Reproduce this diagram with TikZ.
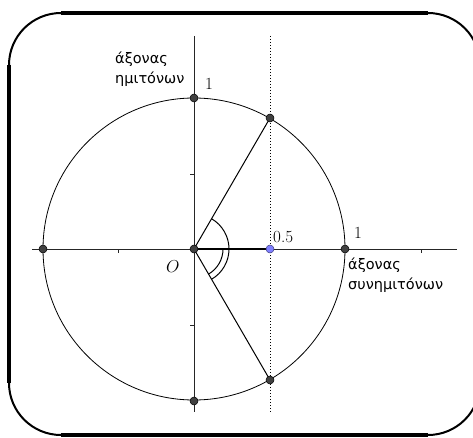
\documentclass[tikz,border=0pt]{standalone}
\usepackage{fontspec}
\newfontfamily\grk{DejaVu Sans}
\definecolor{ptgray}{HTML}{404040}
\definecolor{ptblue}{HTML}{7F7FFF}
\tikzset{
  ax/.style={line width=0.9pt, draw=black!85},
  seg/.style={line width=1pt},
  pt/.style={circle, fill=ptgray, draw=black, line width=0.5pt, inner sep=0pt, minimum size=8pt},
  bpt/.style={circle, fill=ptblue, draw=ptblue!50!black, line width=0.5pt, inner sep=0pt, minimum size=8pt},
  grktext/.style={font=\grk\fontsize{14.5}{20}\selectfont, align=left, inner sep=0pt},
  num/.style={font=\fontsize{17}{20}\selectfont, inner sep=0pt},
  frameline/.style={line width=3.5pt},
  framearc/.style={line width=2pt}
}
\begin{document}
\begin{tikzpicture}[x=1pt,y=-1pt]
\useasboundingbox (0,0) rectangle (473,438);
% frame
\draw[frameline] (61,13) -- (428,13);
\draw[frameline] (9,65) -- (9,383);
\draw[frameline] (61,435) -- (428,435);
\draw[framearc] (9,65) arc[start angle=180, end angle=90, radius=52pt];
\draw[framearc] (428,13) arc[start angle=90, end angle=0, radius=52pt];
\draw[framearc] (480,383) arc[start angle=0, end angle=-90, radius=52pt];
\draw[framearc] (61,435) arc[start angle=-90, end angle=-180, radius=52pt];
% coordinates
\coordinate (O) at (194,249);
\coordinate (xl) at (32,249);
\coordinate (xr) at (457,249);
\coordinate (yt) at (194,36);
\coordinate (yb) at (194,412);
\coordinate (dt) at (270,36);
\coordinate (db) at (270,412);
% circle
\draw[line width=0.8pt] (O) circle[radius=151pt];
% axes
\draw[ax] (xl) -- (xr);
\draw[ax] (yt) -- (yb);
% ticks
\foreach \x in {118,421} \draw[ax] (\x,249) -- (\x,253);
\foreach \y in {174,325} \draw[ax] (194,\y) -- (190,\y);
% dotted line
\draw[line width=1pt, dotted] (dt) -- (db);
% segments
\coordinate (P) at (270,118);
\coordinate (Q) at (270,380);
\coordinate (H) at (270,249);
\draw[seg] (O) -- (P);
\draw[seg] (O) -- (Q);
\draw[line width=2pt] (O) -- (H);
% angles
\draw[seg] ([shift={(60:35pt)}]O) arc[start angle=60, end angle=0, radius=35pt];
\draw[seg] ([shift={(0:35pt)}]O) arc[start angle=0, end angle=-60, radius=35pt];
\draw[seg] ([shift={(0:29pt)}]O) arc[start angle=0, end angle=-60, radius=29pt];
% points
\node[pt] (nO) at (O) {};
\node[pt] (nT) at (194,98) {};
\node[pt] (nB) at (194,401) {};
\node[pt] (nL) at (43,249) {};
\node[pt] (nR) at (345,249) {};
\node[pt] (nP) at (P) {};
\node[pt] (nQ) at (Q) {};
\node[bpt] (nH) at (H) {};
% labels
\node[grktext, anchor=base west] (ys1) at (115,64) {άξονας};
\node[grktext, anchor=base west] (ys2) at (115,84) {ημιτόνων};
\node[grktext, anchor=base west] (xs1) at (348,269) {άξονας};
\node[grktext, anchor=base west] (xs2) at (348,289) {συνημιτόνων};
\node[num, anchor=base west] (one1) at (205,90) {1};
\node[num, anchor=base west] (one2) at (354,238) {1};
\node[num, anchor=base west] (half) at (273,242) {0.5};
\node[num, anchor=base west] (lO) at (166,272) {$O$};
\end{tikzpicture}
\end{document}
